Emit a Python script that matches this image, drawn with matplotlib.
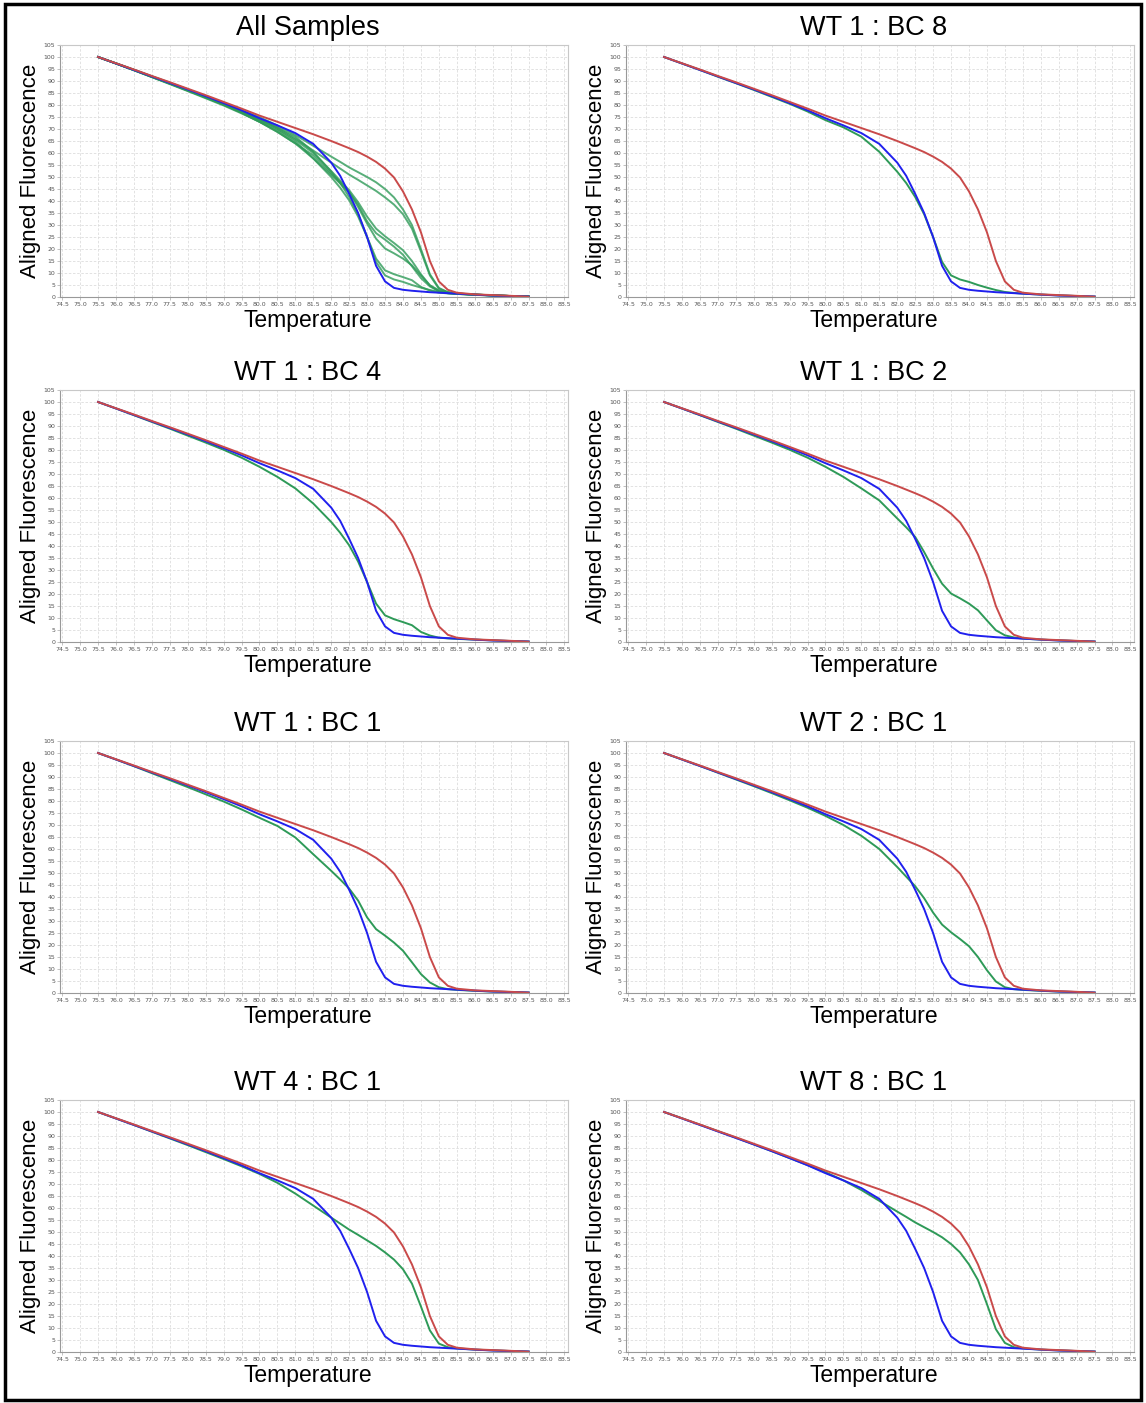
import matplotlib
matplotlib.use('Agg')
import matplotlib.pyplot as plt
from matplotlib.patches import Rectangle

# temperature points shared by every melt curve
temps = [75.5, 76.0, 76.5, 77.0, 77.5, 78.0, 78.5, 79.0, 79.5, 80.0, 80.5, 81.0,
         81.5, 82.0, 82.25, 82.5, 82.75, 83.0, 83.25, 83.5, 83.75, 84.0, 84.25,
         84.5, 84.75, 85.0, 85.25, 85.5, 86.0, 86.5, 87.0, 87.5]

# reference curves (same in every panel)
red = [100, 97.4, 94.8, 92.1, 89.5, 86.8, 84.1, 81.3, 78.5, 75.6, 73.0, 70.4,
       67.8, 65.0, 63.5, 62.0, 60.4, 58.5, 56.3, 53.5, 49.8, 44.0, 36.5,
       27.0, 15.0, 6.5, 3.0, 1.8, 1.1, 0.8, 0.5, 0.1]
blue = [100, 97.3, 94.6, 91.9, 89.2, 86.5, 83.7, 80.8, 77.8, 74.5, 71.5, 68.3,
        63.8, 56.0, 50.5, 43.0, 35.0, 25.0, 13.0, 6.5, 3.8, 3.0, 2.6,
        2.3, 2.0, 1.8, 1.6, 1.4, 1.0, 0.6, 0.4, 0.2]

# mixture curves (green)
wt1_bc8 = [100, 97.3, 94.6, 91.8, 89.1, 86.3, 83.4, 80.5, 77.3, 73.7, 70.7, 66.8,
           60.5, 52.2, 47.5, 41.7, 34.5, 25.0, 14.6, 9.0, 7.3, 6.3, 5.0,
           3.9, 2.9, 2.1, 1.7, 1.4, 1.0, 0.7, 0.4, 0.2]
wt1_bc4 = [100, 97.3, 94.5, 91.7, 88.9, 86.0, 83.1, 80.1, 76.8, 73.0, 68.8, 64.0,
           57.7, 50.0, 45.5, 40.3, 33.5, 25.0, 16.0, 11.1, 9.5, 8.3, 7.0,
           4.2, 2.7, 1.8, 1.5, 1.3, 1.0, 0.7, 0.4, 0.2]
wt1_bc2 = [100, 97.3, 94.5, 91.7, 88.9, 86.0, 83.1, 80.1, 76.8, 73.0, 68.8, 64.0,
           59.0, 51.5, 47.8, 43.8, 37.5, 30.6, 24.3, 20.2, 18.2, 16.0, 13.2,
           9.0, 4.9, 2.8, 1.9, 1.4, 1.0, 0.7, 0.4, 0.2]
wt1_bc1 = [100, 97.3, 94.5, 91.6, 88.7, 85.8, 82.8, 79.8, 76.5, 73.0, 69.6, 64.8,
           57.8, 50.9, 47.3, 43.5, 38.5, 31.5, 26.6, 23.9, 21.0, 17.6, 12.8,
           7.9, 4.4, 2.4, 1.6, 1.3, 0.9, 0.6, 0.4, 0.2]
wt2_bc1 = [100, 97.3, 94.6, 91.8, 89.0, 86.2, 83.3, 80.3, 77.2, 73.8, 70.0, 65.5,
           60.0, 52.5, 48.5, 44.5, 39.5, 33.5, 28.5, 25.3, 22.5, 19.5, 15.0,
           9.5, 4.8, 2.4, 1.6, 1.3, 0.9, 0.6, 0.4, 0.2]
wt4_bc1 = [100, 97.3, 94.6, 91.8, 89.0, 86.2, 83.3, 80.4, 77.4, 74.2, 70.5, 66.0,
           61.0, 56.0, 53.5, 51.0, 48.8, 46.5, 44.2, 41.5, 38.5, 34.5, 28.5,
           19.0, 9.0, 3.5, 2.0, 1.5, 1.0, 0.7, 0.4, 0.2]
wt8_bc1 = [100, 97.4, 94.7, 92.0, 89.3, 86.5, 83.7, 80.8, 77.9, 74.9, 71.5, 67.5,
           63.0, 58.5, 56.3, 54.0, 52.0, 50.0, 47.8, 45.0, 41.5, 36.5, 30.0,
           20.0, 9.5, 3.8, 2.0, 1.5, 1.0, 0.7, 0.4, 0.2]

titles = ['All Samples', 'WT 1 : BC 8', 'WT 1 : BC 4', 'WT 1 : BC 2',
          'WT 1 : BC 1', 'WT 2 : BC 1', 'WT 4 : BC 1', 'WT 8 : BC 1']
all_greens = [wt1_bc8, wt1_bc4, wt1_bc2, wt1_bc1, wt2_bc1, wt4_bc1, wt8_bc1]
panel_greens = [all_greens] + [[g] for g in all_greens]

x_ticks = [74.5 + 0.5 * i for i in range(29)]
y_ticks = list(range(0, 110, 5))

RED = '#c94a4a'
BLUE = '#2020ee'
GREEN = '#2e9a58'
FONT = ['Liberation Sans', 'DejaVu Sans']

W, H = 1146, 1403
fig = plt.figure(figsize=(W / 100, H / 100), dpi=100)

col_left = [60, 626]
row_top = [45, 390, 741, 1100]
ax_w, ax_h = 508, 252

for k, title in enumerate(titles):
    r, c = divmod(k, 2)
    ax = fig.add_axes([col_left[c] / W, 1 - (row_top[r] + ax_h) / H, ax_w / W, ax_h / H])
    for g in panel_greens[k]:
        ax.plot(temps, g, color=GREEN, lw=1.4, alpha=0.8 if k == 0 else 1.0)
    ax.plot(temps, blue, color=BLUE, lw=1.4)
    ax.plot(temps, red, color=RED, lw=1.4)

    ax.set_xlim(74.44, 88.6)
    ax.set_ylim(0, 105)
    ax.set_xticks(x_ticks)
    ax.set_xticklabels(['{:.1f}'.format(t) for t in x_ticks])
    ax.set_yticks(y_ticks)
    ax.tick_params(labelsize=4.5, labelcolor='#555555', length=2, width=0.5,
                   color='#aaaaaa', pad=1.5)
    ax.grid(True, color='#dddddd', lw=0.6, ls=(0, (3, 2)))
    ax.set_axisbelow(True)
    for s in ax.spines.values():
        s.set_color('#c8c8c8')
        s.set_linewidth(0.8)
    ax.spines['left'].set_color('#999999')
    ax.spines['bottom'].set_color('#999999')

    ax.set_title(title, fontsize=19.5, family=FONT, pad=7, x=0.487)
    ax.set_xlabel('Temperature', fontsize=16.5, family=FONT, labelpad=1.5)
    ax.xaxis.label.set_x(0.488)
    ax.set_ylabel('Aligned Fluorescence', fontsize=16, family=FONT, labelpad=2)

# black frame round the whole figure
fig.patches.append(Rectangle((5 / W, 3 / H), 1136 / W, 1396 / H, fill=False,
                             edgecolor='black', linewidth=2.5,
                             transform=fig.transFigure, figure=fig))

fig.savefig('out.png', dpi=100)
